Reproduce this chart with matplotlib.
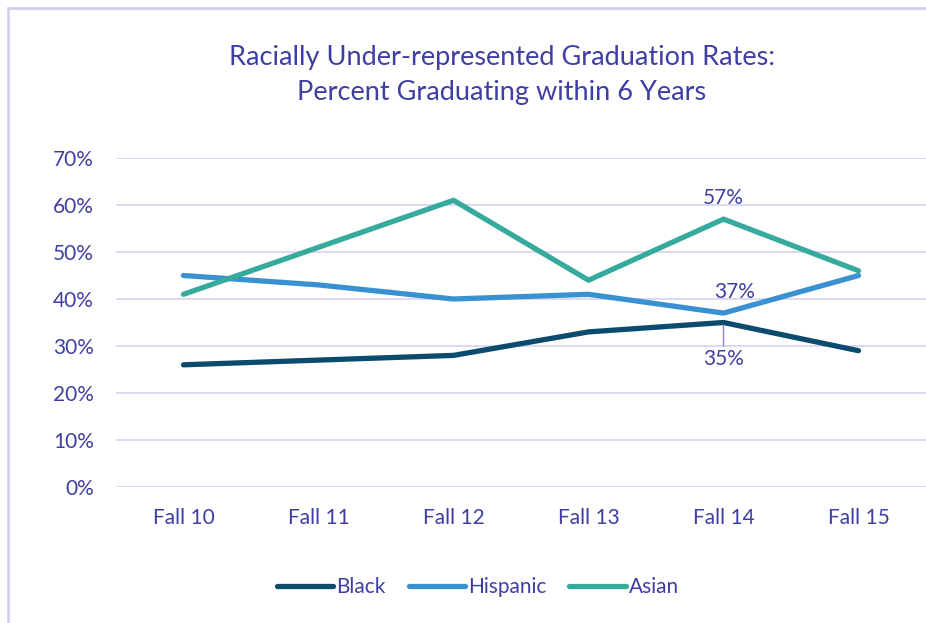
import matplotlib.pyplot as plt
from matplotlib.patches import Rectangle

# Data
terms = ["Fall 10", "Fall 11", "Fall 12", "Fall 13", "Fall 14", "Fall 15"]
black = [26, 27, 28, 33, 35, 29]
hispanic = [45, 43, 40, 41, 37, 45]
asian = [41, 51, 61, 44, 57, 46]
y_ticks = [0, 10, 20, 30, 40, 50, 60, 70]

txt = "#3F3FA3"
grid_c = "#D9D5F0"
colors = {"Black": "#0B4C6E", "Hispanic": "#3A91D2", "Asian": "#36AA9C"}

plt.rcParams["font.family"] = ["Lato", "DejaVu Sans"]

fig = plt.figure(figsize=(9.26, 6.23), dpi=100)
ax = fig.add_axes([116 / 926, 1 - 487 / 623, 810 / 926, (487 - 158) / 623])

x = list(range(len(terms)))
for name, vals in [("Black", black), ("Hispanic", hispanic), ("Asian", asian)]:
    ax.plot(x, vals, color=colors[name], lw=3.8, label=name,
            solid_capstyle="round", solid_joinstyle="round")

ax.set_xlim(-0.5, len(terms) - 0.5)
ax.set_ylim(0, 70)
ax.set_yticks(y_ticks)
ax.set_yticklabels([f"{v}%" for v in y_ticks])
ax.set_xticks(x)
ax.set_xticklabels(terms)
ax.grid(axis="y", color=grid_c, lw=1.3)
ax.set_axisbelow(True)
for s in ax.spines.values():
    s.set_visible(False)
ax.tick_params(length=0, labelsize=15, colors=txt)
ax.tick_params(axis="y", pad=16)
ax.tick_params(axis="x", pad=15)

# data labels at Fall 14
ax.annotate(f"{asian[4]}%", (4, asian[4]), xytext=(0, 8), textcoords="offset points",
            ha="center", va="bottom", fontsize=15, color=txt)
ax.annotate(f"{hispanic[4]}%", (4, hispanic[4]), xytext=(8, 8), textcoords="offset points",
            ha="center", va="bottom", fontsize=15, color=txt)
ax.annotate(f"{black[4]}%", (4, black[4]), xytext=(0, -19), textcoords="offset points",
            ha="center", va="top", fontsize=15, color=txt,
            arrowprops=dict(arrowstyle="-", color="#8B87D6", lw=1, shrinkA=0, shrinkB=2))

fig.text(0.542, 1 - 75 / 623, "Racially Under-represented Graduation Rates:\nPercent Graduating within 6 Years",
         ha="center", va="center", fontsize=19.5, color=txt, linespacing=1.5)

ax.legend(loc="center", bbox_to_anchor=(478 / 926, 1 - 587 / 623), bbox_transform=fig.transFigure,
          ncol=3, frameon=False, fontsize=15, labelcolor=txt, handlelength=2.7,
          handletextpad=0.15, columnspacing=1.1)

fig.patches.append(Rectangle((7.5 / 926, -0.5), 2, 1.5 - 7.5 / 623, transform=fig.transFigure,
                             fill=False, ec="#D3CEF0", lw=2))

fig.savefig("out.png", dpi=100)
